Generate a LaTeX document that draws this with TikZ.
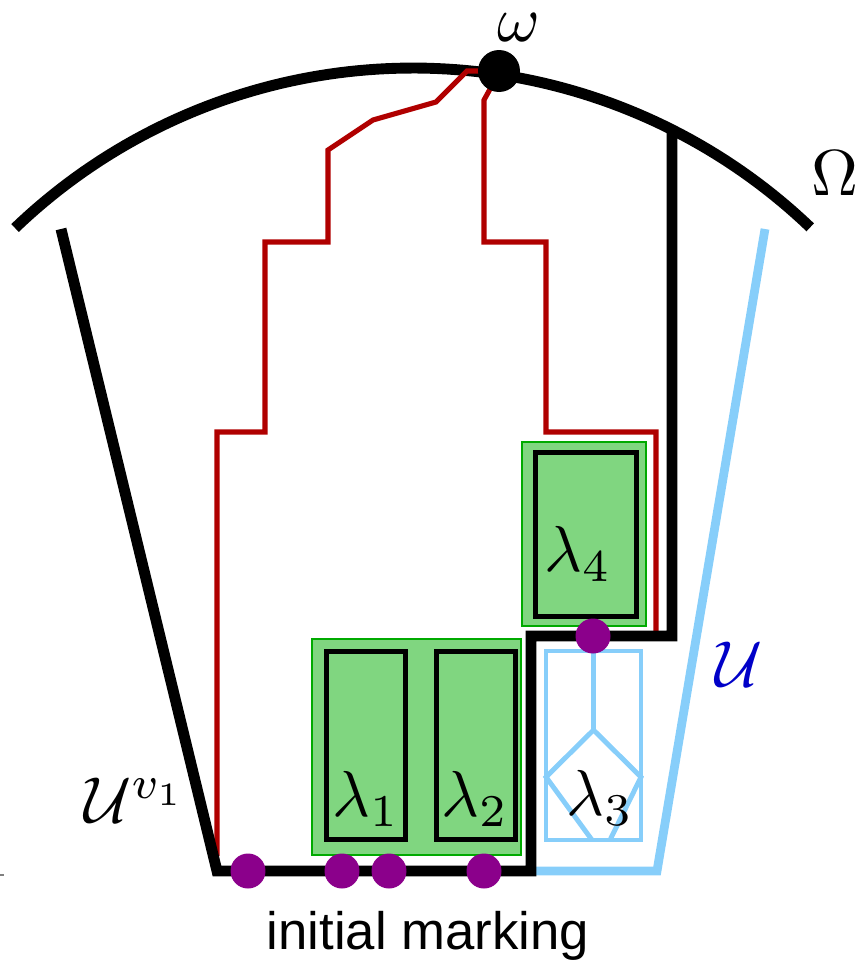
\documentclass[tikz,border=0pt]{standalone}
\usepackage{fontspec}
\newfontfamily\markfont{Liberation Sans}
\usetikzlibrary{positioning}
\definecolor{walkred}{RGB}{176,0,0}
\definecolor{boxgreen}{RGB}{128,214,128}
\definecolor{edgegreen}{RGB}{0,170,0}
\definecolor{tokenpurple}{RGB}{139,0,139}
\definecolor{skyline}{RGB}{135,206,250}
\definecolor{ulabel}{RGB}{0,0,200}

\begin{document}
\begin{tikzpicture}[x=0.02cm, y=-0.02cm,
  wall/.style={line width=6.2pt},
  skywall/.style={draw=skyline, line width=5pt},
  walk/.style={draw=walkred, line width=2.9pt},
  cluster/.style={fill=boxgreen, draw=edgegreen, line width=1.1pt},
  cell/.style={line width=2.8pt},
  skycell/.style={draw=skyline, line width=2.8pt},
  token/.style={circle, fill=tokenpurple, inner sep=0pt, minimum size=0.7cm},
  mathlbl/.style={scale=3.7, inner sep=0pt}]
\useasboundingbox (0,0) rectangle (857,964);

% ---- region Omega and its point omega ----
\draw[wall] plot[domain=-133.8:-46.3, samples=90] ({413+575*cos(\x)},{643+575*sin(\x)});
\node[mathlbl] (Omega) at (835,173) {$\Omega$};

% ---- outer set U (blue) ----
\draw[skywall] (765,229) -- (657,871) -- (533,871);
\node[mathlbl, text=ulabel] (U) at (739,664) {$\mathcal{U}$};

% ---- red walk to omega ----
\draw[walk] (217,856) -- (217,432) -- (265,432) -- (265,242) -- (328,242)
  -- (328,150) -- (373,120) -- (436,102) -- (467,71) -- (500,71)
  -- (484,100) -- (484,242) -- (546,242) -- (546,432) -- (656,432) -- (656,634);

% ---- set U^{v_1} (black) ----
\draw[wall] (61,229) -- (217,871) -- (531,871) -- (531,636) -- (672,636) -- (672,128);
\node[mathlbl] (Uv) at (135,800) {$\mathcal{U}^{v_1}$};

% ---- green clusters ----
\draw[cluster] (312,639) rectangle (521,855);
\draw[cluster] (522,442) rectangle (646,626);
\draw[cell] (326.5,651.5) rectangle (405.5,839.5);
\draw[cell] (436.5,651.5) rectangle (515.5,839.5);
\draw[cell] (535.5,452.5) rectangle (636.5,616.5);
\node[mathlbl] (l1) at (366,799) {$\lambda_1$};
\node[mathlbl] (l2) at (475,799) {$\lambda_2$};
\node[mathlbl] (l4) at (578,554) {$\lambda_4$};

% ---- lambda_3 (blue) ----
\draw[skycell] (546,651) rectangle (641,840);
\draw[skycell] (593.5,651) -- (593.5,730) -- (546,777) -- (592,840);
\draw[skycell] (593.5,730) -- (641,777) -- (610,840);
\node[mathlbl] (l3) at (600,798) {$\lambda_3$};

% ---- tokens ----
\node[circle, fill=black, inner sep=0pt, minimum size=0.84cm] (omegapt) at (499,71) {};
\node[mathlbl] (omega) at (519,28) {$\omega$};
\foreach \x [count=\i] in {248,342,389,484} {
  \node[token] (t\i) at (\x,871) {};
}
\node[token] (t5) at (593,636) {};

\node[font=\markfont\fontsize{30}{34}\selectfont] (init) at (428,936) {initial marking};
\draw[gray, line width=1pt] (0,875) -- (4,875);
\end{tikzpicture}
\end{document}
